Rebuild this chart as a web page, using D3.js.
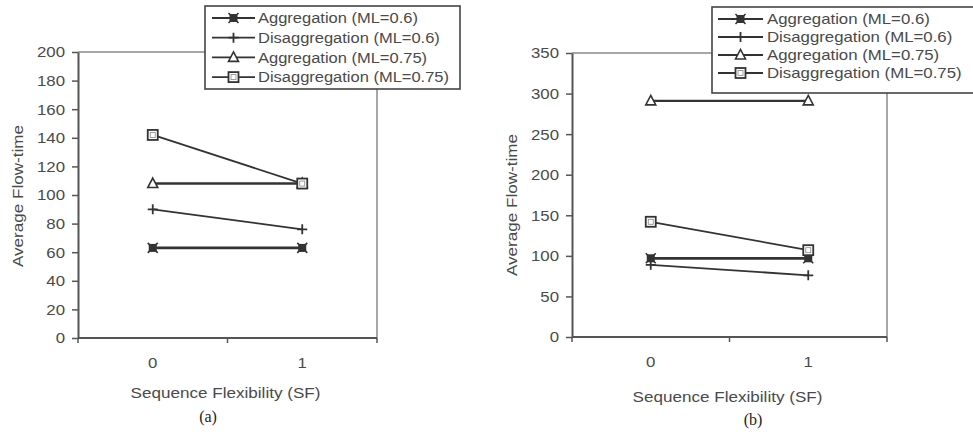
<!DOCTYPE html>
<html><head><meta charset="utf-8">
<script src="https://cdn.jsdelivr.net/npm/d3@7"></script>
<style>body{margin:0;background:#fff}svg{display:block}</style>
</head><body>
<script>
// Series data for the two panels
const categories = ["0", "1"];
const seriesNames = [
  "Aggregation (ML=0.6)",
  "Disaggregation (ML=0.6)",
  "Aggregation (ML=0.75)",
  "Disaggregation (ML=0.75)"
];
const panelAValues = [[63, 63], [90, 76], [108, 108], [142, 108]];
const panelBValues = [[97, 97], [89, 76], [291, 291], [142, 107]];
const panelATicks = [0, 20, 40, 60, 80, 100, 120, 140, 160, 180, 200];
const panelBTicks = [0, 50, 100, 150, 200, 250, 300, 350];
const captions = ["(a)", "(b)"];
const yTitle = "Average Flow-time";
const xTitle = "Sequence Flexibility (SF)";

// Per-series drawing style
const markerTypes = ["aggx", "plus", "triangle", "square"];
const lineWidths = [2.8, 1.8, 2.4, 1.8];
const ink = "#333";
const textInk = "#4a4a4a";
const font = "'Liberation Sans', Arial, sans-serif";

const W = 973, H = 444;
const svg = d3.select("body").append("svg").attr("width", W).attr("height", H);

const panels = [
  { values: panelAValues, ticks: panelATicks, caption: captions[0],
    left: 78, right: 377, top: 52, bottom: 338,
    yTitleX: 18, yTitleY: 196, xTitleY: 398, captionX: 208, captionY: 422,
    legend: { x: 205, y: 6, w: 255, h: 83, row0: 18, rowStep: 19.7, lineX0: 212, lineX1: 255, textX: 258, size: 15, sx: 1.1 } },
  { values: panelBValues, ticks: panelBTicks, caption: captions[1],
    left: 572, right: 887, top: 53, bottom: 337,
    yTitleX: 512, yTitleY: 205, xTitleY: 402, captionX: 753, captionY: 425,
    legend: { x: 712, y: 7, w: 275, h: 86, row0: 18, rowStep: 18, lineX0: 718, lineX1: 763, textX: 767, size: 14, sx: 1.2 } }
];

function label(g, x, y, s, o) {
  const t = g.append("text")
    .attr("transform", `translate(${x},${y})` + (o.rotate ? ` rotate(${o.rotate})` : "") + ` scale(${o.sx || 1},1)`)
    .attr("text-anchor", o.anchor || "start")
    .attr("font-family", o.family || font)
    .attr("font-size", o.size || 14)
    .attr("fill", o.fill || textInk)
    .text(s);
  if (o.dy) t.attr("dy", o.dy);
  return t;
}

function marker(g, type, cx, cy) {
  const m = g.append("g").attr("transform", `translate(${cx},${cy})`);
  if (type === "aggx") {
    m.append("rect").attr("x", -4).attr("y", -4).attr("width", 8).attr("height", 8).attr("fill", ink);
    m.append("path").attr("d", "M-5,-5L5,5M-5,5L5,-5").attr("stroke", ink).attr("stroke-width", 1.6);
  } else if (type === "plus") {
    m.append("path").attr("d", "M-5,0L5,0M0,-5L0,5").attr("stroke", ink).attr("stroke-width", 1.8);
  } else if (type === "triangle") {
    m.append("path").attr("d", "M0,-5.5L5,4L-5,4Z").attr("fill", "#fff").attr("stroke", ink).attr("stroke-width", 1.6);
  } else {
    m.append("rect").attr("x", -5).attr("y", -5).attr("width", 10).attr("height", 10)
      .attr("fill", "#fff").attr("stroke", ink).attr("stroke-width", 1.8);
    m.append("rect").attr("x", -2.5).attr("y", -2.5).attr("width", 5).attr("height", 5)
      .attr("fill", "none").attr("stroke", "#888").attr("stroke-width", 0.8);
  }
}

panels.forEach(p => {
  const g = svg.append("g");
  const x = d3.scaleBand().domain(categories).range([p.left, p.right]);
  const y = d3.scaleLinear().domain([0, d3.max(p.ticks)]).range([p.bottom, p.top]);

  // plot-area frame (top and right edges)
  g.append("path")
    .attr("d", `M${p.left},${p.top}H${p.right}V${p.bottom}`)
    .attr("fill", "none").attr("stroke", "#8a8a8a").attr("stroke-width", 1.5);

  // y axis
  const yAxis = g.append("g").attr("transform", `translate(${p.left},0)`)
    .call(d3.axisLeft(y).tickValues(p.ticks).tickSize(6).tickSizeOuter(0));
  yAxis.select(".domain").attr("stroke", "#555").attr("stroke-width", 2);
  yAxis.selectAll(".tick line").attr("stroke", "#555").attr("stroke-width", 1.5);
  yAxis.selectAll(".tick text")
    .attr("x", null).attr("dy", "0.35em")
    .attr("transform", "translate(-13,0) scale(1.2,1)")
    .attr("font-family", font).attr("font-size", 14).attr("fill", textInk);

  // x axis: line, boundary ticks between categories, centred labels
  g.append("line").attr("x1", p.left).attr("x2", p.right).attr("y1", p.bottom).attr("y2", p.bottom)
    .attr("stroke", "#555").attr("stroke-width", 2);
  const bounds = categories.map(c => x(c)).concat([x.range()[1]]);
  g.selectAll(null).data(bounds).join("line")
    .attr("x1", d => d).attr("x2", d => d).attr("y1", p.bottom).attr("y2", p.bottom + 5)
    .attr("stroke", "#555").attr("stroke-width", 1.5);
  categories.forEach(c => label(g, x(c) + x.bandwidth() / 2, p.bottom + 30, c, { anchor: "middle", size: 14, sx: 1.2 }));

  // titles
  label(g, (p.left + p.right) / 2 - 2, p.xTitleY, xTitle, { anchor: "middle", size: 14, sx: 1.22 });
  label(g, p.yTitleX, p.yTitleY, yTitle, { anchor: "middle", size: 14, sx: 1.22, rotate: -90, dy: "0.35em" });
  label(g, p.captionX, p.captionY, p.caption, { anchor: "middle", size: 16, family: "'Liberation Serif', 'Times New Roman', serif", fill: "#222" });

  // series lines and markers
  const line = d3.line().x((d, i) => x(categories[i]) + x.bandwidth() / 2).y(d => y(d));
  p.values.forEach((vals, si) => {
    g.append("path").attr("d", line(vals)).attr("fill", "none")
      .attr("stroke", ink).attr("stroke-width", lineWidths[si]);
  });
  p.values.forEach((vals, si) => {
    vals.forEach((v, i) => marker(g, markerTypes[si], x(categories[i]) + x.bandwidth() / 2, y(v)));
  });

  // legend
  const L = p.legend;
  const lg = svg.append("g");
  lg.append("rect").attr("x", L.x).attr("y", L.y).attr("width", L.w).attr("height", L.h)
    .attr("fill", "#fff").attr("stroke", "#444").attr("stroke-width", 1.6);
  seriesNames.forEach((name, si) => {
    const ry = L.y + L.row0 - 6 + si * L.rowStep;
    lg.append("line").attr("x1", L.lineX0).attr("x2", L.lineX1).attr("y1", ry).attr("y2", ry)
      .attr("stroke", ink).attr("stroke-width", 1.8);
    marker(lg, markerTypes[si], (L.lineX0 + L.lineX1) / 2, ry);
    label(lg, L.textX, ry, name, { size: L.size, sx: L.sx, dy: "0.35em" });
  });
});
</script>
</body></html>
